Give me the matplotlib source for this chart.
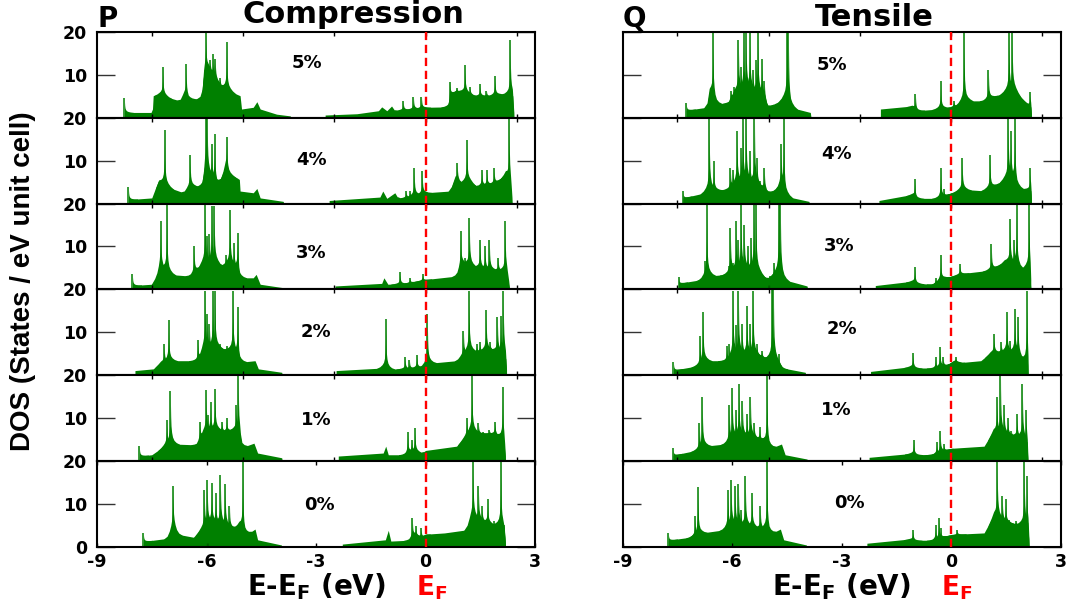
import numpy as np
import matplotlib.pyplot as plt

# strain levels, top panel to bottom panel
strains = ['5%', '4%', '3%', '2%', '1%', '0%']

# ---- compression: smooth DOS background (E, DOS) and sharp van Hove peaks ----
c5_E = [-8.25, -8.25, -7.52, -7.48, -7.46, -7.27, -7.05, -6.73, -6.61, -6.50, -6.13, -6.07, -5.95, -5.72, -5.58, -5.40, -5.08, -5.04, -4.72, -4.62, -4.53, -4.08, -3.71, -3.67,
        -2.75, -2.75, -1.88, -1.29, -1.20, -1.06, -0.93, -0.84, -0.70, -0.40, 0.00, 0.63, 0.67, 0.85, 1.10, 1.35, 1.75, 2.05, 2.39, 2.42]
c5_D = [0, 1.2, 1.2, 2.0, 5.1, 5.5, 4.7, 3.9, 5.5, 4.3, 4.5, 11.0, 11.8, 8.6, 7.1, 6.3, 5.1, 2.0, 2.4, 3.7, 2.0, 0.8, 0.4, 0,
        0, 0.6, 0.9, 1.6, 2.5, 1.6, 2.7, 1.6, 1.8, 2.0, 2.4, 2.5, 5.5, 6.3, 5.9, 5.1, 5.1, 5.5, 5.1, 0]
c5_pk_E = [-8.25, -7.20, -6.56, -6.02, -5.90, -5.81, -5.76, -5.63, -5.45, -0.61, -0.33, -0.11, 0.67, 0.85, 1.08, 1.22, 1.49, 1.67, 1.90, 2.32]
c5_pk_D = [4.5, 11.8, 12.4, 20, 13.3, 14.9, 13.7, 9.3, 17.6, 3.9, 4.9, 4.9, 8.2, 6.9, 12.2, 7.2, 7.8, 6.3, 9.6, 18.0]

c4_E = [-8.14, -8.14, -7.50, -7.41, -7.32, -7.12, -6.63, -6.45, -6.10, -6.06, -5.80, -5.72, -5.58, -5.49, -5.38, -5.17, -5.10, -5.08, -4.72, -4.62, -4.53, -3.90, -3.88,
        -2.64, -2.64, -1.25, -1.17, -1.06, -0.84, -0.75, -0.50, 0.00, 0.67, 0.81, 0.95, 1.20, 1.40, 1.90, 2.20, 2.33, 2.37]
c4_D = [0, 0.9, 1.3, 3.3, 5.2, 4.0, 2.5, 4.0, 4.0, 8.3, 5.5, 4.4, 6.0, 8.7, 6.8, 6.0, 5.6, 2.9, 2.5, 3.5, 1.3, 0.5, 0,
        0, 0.7, 1.5, 2.9, 1.2, 2.5, 1.2, 1.5, 2.5, 2.9, 6.0, 4.8, 5.2, 4.0, 4.8, 6.8, 3.7, 0]
c4_pk_E = [-8.14, -7.15, -6.45, -6.02, -5.98, -5.93, -5.86, -5.78, -5.45, -0.53, -0.43, -0.31, -0.09, 0.87, 1.13, 1.54, 1.68, 1.88, 2.29]
c4_pk_D = [3.8, 17.0, 11.4, 20, 20, 6.8, 13.8, 16.1, 15.5, 3.0, 2.9, 8.3, 7.5, 9.5, 14.9, 7.9, 7.7, 8.3, 20]

c3_E = [-8.03, -8.03, -7.50, -7.37, -7.27, -7.05, -6.45, -6.30, -6.09, -5.74, -5.60, -5.40, -5.13, -5.11, -4.72, -4.64, -4.53, -3.90, -3.88,
        -2.48, -2.48, -1.20, -1.14, -1.03, -0.60, -0.20, 0.00, 0.85, 1.00, 1.27, 1.70, 2.00, 2.22, 2.30]
c3_D = [0, 0.9, 1.2, 2.7, 5.4, 3.5, 3.1, 4.3, 6.2, 6.2, 5.5, 6.0, 5.0, 2.7, 2.7, 3.5, 1.2, 0.4, 0,
        0, 0.8, 1.4, 2.7, 1.2, 1.4, 2.0, 2.3, 3.1, 6.2, 5.4, 4.7, 4.5, 3.9, 0]
c3_pk_E = [-8.03, -7.26, -7.09, -6.34, -6.04, -5.98, -5.92, -5.86, -5.79, -5.68, -5.47, -5.36, -5.25, -5.15, -0.70, -0.43, -0.08, 0.96, 1.08, 1.20, 1.49, 1.63, 1.75, 1.99, 2.18]
c3_pk_D = [3.5, 15.9, 19.8, 10.1, 19.8, 12.4, 12.8, 19.4, 19.4, 5.0, 8.1, 18.6, 10.9, 13.2, 4.0, 2.7, 3.5, 13.6, 7.4, 16.7, 11.6, 10.1, 11.6, 7.4, 15.9]

c2_E = [-7.96, -7.96, -7.46, -7.26, -7.00, -6.27, -6.18, -6.09, -5.70, -5.40, -5.13, -5.11, -4.67, -4.58, -3.94, -3.92,
        -2.45, -2.45, -1.16, -1.00, -0.50, -0.10, 0.00, 0.10, 0.85, 1.10, 1.35, 1.80, 2.15, 2.20, 2.22]
c2_D = [0, 1.1, 1.5, 3.0, 3.4, 3.4, 4.6, 6.5, 6.5, 5.8, 5.0, 3.0, 3.4, 1.5, 0.7, 0,
        0, 1.1, 1.7, 1.4, 1.6, 2.0, 2.4, 2.8, 3.4, 5.3, 5.5, 6.0, 5.0, 3.8, 0]
c2_pk_E = [-7.16, -7.04, -6.24, -6.04, -5.98, -5.92, -5.83, -5.77, -5.63, -5.45, -5.28, -5.15, -1.09, -0.56, -0.44, -0.24, 0.05, 1.04, 1.19, 1.40, 1.49, 1.66, 1.77, 1.97, 2.06, 2.13]
c2_pk_D = [7.3, 12.9, 8.2, 19.7, 14.3, 11.9, 19.7, 19.7, 7.3, 6.9, 19.7, 15.8, 13.1, 4.2, 3.6, 4.8, 14.3, 10.4, 19.7, 7.3, 7.7, 15.2, 7.7, 13.5, 13.9, 19.7]

c1_E = [-7.84, -7.84, -7.50, -7.23, -7.00, -6.90, -6.27, -6.09, -5.80, -5.50, -5.20, -5.08, -5.06, -4.70, -4.60, -3.94, -3.92,
        -2.39, -2.39, -1.16, -1.09, -1.02, -0.56, -0.40, -0.10, 0.00, 0.85, 1.20, 1.50, 1.90, 2.15, 2.19]
c1_D = [0, 1.2, 1.5, 3.1, 4.6, 4.0, 3.8, 6.9, 7.5, 7.0, 7.5, 6.0, 3.1, 4.2, 1.9, 0.8, 0,
        0, 1.2, 1.9, 3.5, 1.5, 1.5, 2.5, 1.9, 2.5, 3.5, 6.9, 6.5, 6.5, 4.6, 0]
c1_pk_E = [-7.84, -7.09, -6.99, -6.18, -6.01, -5.95, -5.89, -5.77, -5.58, -5.45, -5.19, -5.13, -0.49, -0.38, -0.29, 1.13, 1.27, 1.45, 1.57, 1.75, 1.90, 2.11]
c1_pk_D = [3.5, 9.6, 16.3, 9.2, 16.5, 10.8, 13.7, 16.9, 9.2, 10.0, 13.1, 20, 6.9, 5.0, 7.7, 10.0, 19.8, 8.8, 6.9, 7.3, 9.2, 17.3]

c0_E = [-7.73, -7.73, -7.10, -7.04, -6.92, -6.80, -6.36, -6.16, -5.90, -5.60, -5.30, -5.10, -4.97, -4.67, -4.60, -3.95, -3.93,
        -2.28, -2.28, -1.10, -1.02, -0.95, -0.46, -0.30, -0.10, 0.00, 0.52, 1.11, 1.25, 1.60, 1.95, 2.15, 2.19]
c0_D = [0, 1.3, 2.0, 2.5, 5.0, 3.0, 2.3, 4.0, 6.0, 5.5, 4.5, 5.0, 2.5, 4.2, 1.7, 0.5, 0,
        0, 0.7, 1.7, 3.9, 1.4, 1.6, 3.0, 2.3, 3.0, 3.3, 4.0, 7.0, 6.0, 5.0, 4.5, 0]
c0_pk_E = [-7.73, -6.92, -6.06, -5.98, -5.86, -5.75, -5.62, -5.49, -5.37, -5.01, -0.36, -0.27, -0.12, 1.30, 1.45, 1.55, 1.70, 1.89, 2.06, 2.14]
c0_pk_D = [3.3, 14.2, 13.4, 15.7, 14.9, 12.6, 16.7, 14.6, 9.5, 20, 6.8, 4.8, 4.5, 20, 14.2, 9.5, 11.1, 6.0, 20, 5.2]

# ---- tensile ----
t5_E = [-7.26, -7.26, -6.70, -6.62, -6.45, -6.10, -5.95, -5.60, -5.30, -5.12, -5.05, -4.68, -4.50, -4.41, -3.86, -3.84,
        -1.94, -1.94, -1.07, -0.95, -0.34, 0.00, 0.35, 0.50, 0.90, 1.10, 1.49, 1.72, 2.09, 2.18, 2.20]
t5_D = [0, 1.7, 2.4, 6.3, 3.1, 3.5, 6.0, 7.0, 6.0, 5.0, 2.4, 3.9, 5.0, 2.4, 1.2, 0,
        0, 2.0, 2.7, 1.6, 2.0, 2.5, 3.5, 3.9, 3.9, 4.7, 5.9, 6.5, 3.1, 2.5, 0]
t5_pk_E = [-7.26, -6.53, -6.04, -5.95, -5.83, -5.76, -5.69, -5.62, -5.52, -5.43, -5.34, -5.30, -5.19, -5.12, -4.50, -4.46, -0.98, -0.29, 0.07, 0.35, 1.02, 1.58, 1.67, 2.16]
t5_pk_D = [3.5, 20, 6.3, 7.1, 18.0, 11.8, 20, 20, 20, 11.0, 13.3, 20, 13.7, 8.6, 20, 20, 5.6, 8.6, 3.9, 20, 11.0, 20, 20, 5.9]

t4_E = [-7.35, -7.35, -6.74, -6.55, -6.10, -5.90, -5.60, -5.30, -5.12, -5.05, -4.77, -4.66, -4.55, -3.90, -3.88,
        -1.98, -1.98, -1.07, -0.95, -0.35, 0.00, 0.30, 0.81, 1.06, 1.45, 1.65, 1.80, 2.05, 2.18, 2.20]
t4_D = [0, 1.3, 2.5, 3.0, 3.3, 5.0, 5.5, 4.5, 3.5, 2.5, 3.3, 5.0, 1.7, 0.5, 0,
        0, 0.7, 2.1, 1.2, 1.2, 2.5, 3.3, 3.0, 3.5, 5.6, 6.5, 3.7, 3.3, 3.0, 0]
t4_pk_E = [-7.35, -6.63, -6.51, -6.05, -5.98, -5.87, -5.76, -5.71, -5.62, -5.52, -5.39, -5.32, -5.25, -5.12, -4.66, -4.59, -1.00, -0.29, -0.20, 0.30, 1.06, 1.56, 1.63, 1.74, 2.16]
t4_pk_D = [2.9, 20, 9.9, 8.3, 7.9, 16.9, 13.0, 20, 20, 12.2, 20, 10.7, 5.2, 8.3, 13.8, 20, 5.6, 8.2, 3.3, 10.7, 11.4, 20, 16.9, 20, 8.3]

t3_E = [-7.47, -7.47, -6.83, -6.65, -6.15, -5.90, -5.50, -5.28, -5.05, -4.85, -4.68, -4.60, -3.95, -3.93,
        -2.08, -2.08, -1.07, -0.95, -0.50, -0.20, 0.00, 0.30, 0.90, 1.10, 1.45, 1.75, 1.90, 2.10, 2.16, 2.18]
t3_D = [0, 1.4, 2.3, 3.1, 3.5, 5.0, 5.0, 4.0, 2.5, 3.5, 4.0, 2.3, 0.8, 0,
        0, 0.9, 1.9, 1.4, 1.2, 2.7, 3.1, 3.7, 4.3, 4.5, 6.6, 6.0, 4.7, 5.0, 4.0, 0]
t3_pk_E = [-7.47, -6.74, -6.70, -6.10, -6.05, -5.98, -5.89, -5.83, -5.76, -5.67, -5.58, -5.48, -5.41, -5.35, -5.28, -4.96, -4.85, -4.73, -4.68,
           -1.00, -0.43, -0.29, 0.24, 1.10, 1.61, 1.72, 1.79, 2.04, 2.13]
t3_pk_D = [2.9, 6.6, 19.8, 5.4, 14.3, 6.2, 15.9, 11.6, 19.8, 15.1, 10.1, 12.0, 19.8, 19.8, 5.4, 3.1, 6.2, 19.8, 19.8,
           5.3, 2.7, 8.1, 5.8, 10.5, 16.3, 11.6, 19.8, 5.0, 19.8]

t2_E = [-7.61, -7.61, -6.95, -6.75, -6.19, -5.90, -5.50, -5.20, -5.05, -4.85, -4.70, -4.62, -4.00, -3.98,
        -2.21, -2.21, -1.12, -1.00, -0.50, -0.10, 0.07, 0.30, 0.81, 1.08, 1.40, 1.80, 2.00, 2.09, 2.11]
t2_D = [0, 1.2, 2.2, 3.4, 3.4, 5.0, 5.0, 4.5, 3.8, 4.0, 2.5, 1.7, 0.7, 0,
        0, 0.9, 2.0, 1.7, 1.7, 2.5, 3.4, 3.0, 3.4, 5.3, 5.5, 5.5, 3.0, 3.0, 0]
t2_pk_E = [-7.61, -6.88, -6.80, -6.15, -6.08, -5.98, -5.89, -5.83, -5.73, -5.60, -5.51, -5.43, -5.32, -5.19, -4.91, -4.87, -4.73,
           -1.05, -0.43, -0.31, -0.22, 0.12, 1.17, 1.37, 1.52, 1.61, 1.74, 1.83, 2.07]
t2_pk_D = [3.0, 9.2, 14.7, 6.9, 7.3, 19.7, 11.6, 19.7, 11.9, 16.2, 11.9, 19.7, 7.3, 5.7, 20, 20, 5.0,
           5.3, 4.2, 6.5, 4.2, 4.2, 9.6, 7.7, 14.7, 8.1, 15.4, 13.5, 19.7]

t1_E = [-7.62, -7.62, -7.00, -6.75, -6.20, -5.90, -5.50, -5.20, -5.00, -4.65, -4.55, -3.95, -3.93,
        -2.25, -2.25, -1.10, -0.95, -0.50, -0.20, 0.00, 0.90, 1.15, 1.50, 1.90, 2.08, 2.10]
t1_D = [0, 1.4, 2.5, 3.5, 4.0, 6.0, 6.0, 5.0, 2.8, 4.0, 1.5, 0.5, 0,
        0, 0.9, 1.8, 1.5, 1.6, 2.5, 3.0, 3.5, 7.0, 6.5, 5.5, 4.5, 0]
t1_pk_E = [-7.62, -6.90, -6.82, -6.08, -6.00, -5.90, -5.82, -5.72, -5.60, -5.50, -5.40, -5.25, -5.05,
           -1.03, -0.40, -0.30, -0.20, 1.25, 1.35, 1.45, 1.55, 1.65, 1.80, 1.95, 2.05]
t1_pk_D = [3.0, 9.0, 15.0, 13.0, 17.0, 12.0, 18.0, 14.0, 11.0, 15.0, 9.0, 8.0, 20,
           5.0, 4.5, 7.0, 4.0, 15.0, 20, 13.0, 10.0, 7.0, 11.0, 18.0, 12.0]

t0_E = [-7.75, -7.75, -7.15, -6.83, -6.24, -6.00, -5.60, -5.30, -5.10, -4.99, -4.68, -4.59, -3.97, -3.95,
        -2.31, -2.31, -1.12, -1.00, -0.52, -0.20, 0.00, 0.16, 0.90, 1.17, 1.45, 1.70, 2.00, 2.11, 2.13]
t0_D = [0, 1.6, 2.3, 3.3, 4.0, 5.5, 5.0, 4.5, 4.0, 2.9, 4.2, 1.7, 0.5, 0,
        0, 0.9, 1.9, 1.6, 1.6, 2.5, 2.9, 3.0, 3.3, 7.5, 6.0, 5.5, 5.0, 4.5, 0]
t0_pk_E = [-7.75, -7.02, -6.94, -6.12, -6.03, -5.92, -5.83, -5.76, -5.64, -5.46, -5.23, -5.05,
           -1.05, -0.43, -0.34, -0.29, 0.16, 1.26, 1.40, 1.49, 1.58, 1.77, 2.00, 2.07]
t0_pk_D = [3.3, 7.2, 14.0, 13.4, 15.7, 14.2, 14.6, 8.7, 16.5, 12.6, 9.5, 20,
           4.0, 5.2, 6.8, 4.4, 4.0, 20, 11.8, 11.1, 6.4, 6.0, 20, 16.5]

compression = [(c5_E, c5_D, c5_pk_E, c5_pk_D), (c4_E, c4_D, c4_pk_E, c4_pk_D), (c3_E, c3_D, c3_pk_E, c3_pk_D),
               (c2_E, c2_D, c2_pk_E, c2_pk_D), (c1_E, c1_D, c1_pk_E, c1_pk_D), (c0_E, c0_D, c0_pk_E, c0_pk_D)]
tensile = [(t5_E, t5_D, t5_pk_E, t5_pk_D), (t4_E, t4_D, t4_pk_E, t4_pk_D), (t3_E, t3_D, t3_pk_E, t3_pk_D),
           (t2_E, t2_D, t2_pk_E, t2_pk_D), (t1_E, t1_D, t1_pk_E, t1_pk_D), (t0_E, t0_D, t0_pk_E, t0_pk_D)]

# where the strain labels sit inside each panel (E, DOS)
lab_c = [(-3.25, 12.6), (-3.12, 10.1), (-3.12, 8.5), (-3.0, 10.0), (-3.0, 9.5), (-2.9, 9.8)]
lab_t = [(-3.26, 12.3), (-3.15, 11.5), (-3.07, 10.1), (-3.0, 10.8), (-3.15, 11.9), (-2.8, 10.2)]

# cusp-shaped outline of one peak: offset in eV and fraction of the height above background
half_dx = [0.25, 0.16, 0.10, 0.06, 0.035, 0.018, 0.009, 0.003]
half_fr = [0.0, 0.03, 0.07, 0.12, 0.2, 0.32, 0.5, 0.75]
peak_dx = np.array([-d for d in half_dx] + [0] + half_dx[::-1])
peak_fr = np.array(half_fr + [1] + half_fr[::-1])

green = '#008000'
W, H = 1075, 610
fig = plt.figure(figsize=(W / 100, H / 100), dpi=100)

top_px = 31.7
panel_px = 85.9
col_x = [97 / W, 622.7 / W]
col_w = 438 / W


def draw_column(x0, panels, labels, show_y):
    axes = []
    for i, (E, D, pE, pD) in enumerate(panels):
        bottom = 1 - (top_px + (i + 1) * panel_px) / H
        ax = fig.add_axes([x0, bottom, col_w, panel_px / H])
        ax.fill_between(E, D, color=green, lw=0)
        lo, hi = E[0], E[-1]
        for e, h in zip(pE, pD):
            xs = np.clip(e + peak_dx, lo, hi)
            base = np.interp(xs, E, D)
            ax.fill_between(xs, 0, base + (h - base) * peak_fr, color=green, lw=0)
        ax.vlines(pE, 0, pD, color=green, lw=1.1)
        ax.axvline(0, color='red', ls=(0, (3.5, 2)), lw=1.7, zorder=5)
        ax.set_xlim(-9, 3)
        ax.set_ylim(0, 20)
        for sp in ax.spines.values():
            sp.set_linewidth(1.5)
        last = i == len(panels) - 1
        if last:
            ax.set_xticks([-9, -6, -3, 0, 3])
            ax.set_xticklabels(['-9', '-6', '-3', '0', '3'], fontsize=12.5, fontweight='bold')
        else:
            ax.set_xticks([-7.5, -5, -2.5, 0, 2.5])
            ax.set_xticklabels([])
        ax.tick_params(axis='x', direction='in', length=3, width=1, top=True, bottom=True, pad=4)
        ax.set_yticks([0, 10, 20])
        if show_y:
            ax.set_yticklabels(['0' if last else '', '10', '20'], fontsize=12.5, fontweight='bold')
        else:
            ax.set_yticklabels([])
        ax.tick_params(axis='y', direction='in', length=13, width=1, left=True, right=True, pad=7, color='#333333')
        lx, ly = labels[i]
        ax.text(lx, ly, strains[i], ha='center', va='center', fontsize=13, fontweight='bold')
        axes.append(ax)
    return axes


left_axes = draw_column(col_x[0], compression, lab_c, True)
right_axes = draw_column(col_x[1], tensile, lab_t, False)

for ax in (left_axes[-1], right_axes[-1]):
    ax.text(-3, -0.565, r'E-E$_{\mathbf{F}}$ (eV)', transform=ax.get_xaxis_transform(),
            ha='center', va='baseline', fontsize=20, fontweight='bold')
    ax.text(-0.27, -0.56, r'E$_{\mathbf{F}}$', transform=ax.get_xaxis_transform(),
            ha='left', va='baseline', fontsize=19, fontweight='bold', color='red')

fig.text(97 / W, 1 - 27 / H, 'P', fontsize=20, fontweight='bold', va='baseline')
fig.text(353 / W, 1 - 23 / H, 'Compression', fontsize=22, fontweight='bold', ha='center', va='baseline')
fig.text(623 / W, 1 - 27 / H, 'Q', fontsize=20, fontweight='bold', va='baseline')
fig.text(874 / W, 1 - 26 / H, 'Tensile', fontsize=22, fontweight='bold', ha='center', va='baseline')
fig.text(23 / W, 1 - 281 / H, 'DOS (States / eV unit cell)', rotation=90, ha='center', va='center',
         fontsize=20, fontweight='bold', family='Liberation Sans')

fig.savefig('out.png', dpi=100)
